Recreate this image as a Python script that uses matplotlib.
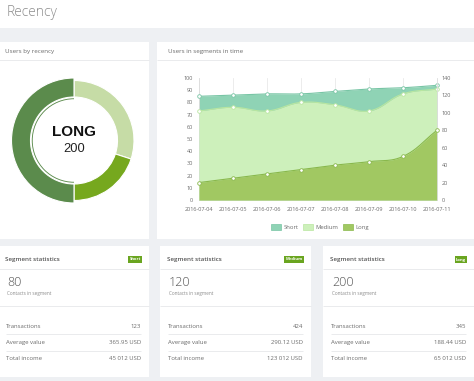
import matplotlib
matplotlib.use("Agg")
import matplotlib.pyplot as plt
import numpy as np
from matplotlib.patches import Rectangle, Patch, Wedge

W, H = 474, 381
plt.rcParams['font.family'] = ['Open Sans', 'DejaVu Sans']

# ---------------- data ----------------
dates = ["2016-07-04", "2016-07-05", "2016-07-06", "2016-07-07",
         "2016-07-08", "2016-07-09", "2016-07-10", "2016-07-11"]
short_series = [85, 86, 87, 87, 89, 91, 92, 94]      # left axis
medium_series = [73, 76, 73, 80, 78, 73, 87, 91]     # left axis
long_series = [20, 25, 30, 35, 40, 44, 50, 80]       # right axis
left_ticks = list(range(0, 101, 10))
right_ticks = list(range(0, 141, 20))

segments = ["Short", "Medium", "Long"]
segment_counts = [80, 120, 200]
donut_order = ["Medium", "Short", "Long"]
selected_segment = "Long"

transactions = [123, 424, 345]
average_values = [365.95, 290.12, 188.44]
total_incomes = [45012, 123012, 65012]

# ---------------- styles ----------------
fill_colors = {"Short": "#8fd3b5", "Medium": "#cdf0bb", "Long": "#a1c862"}
line_colors = {"Short": "#78c5a5", "Medium": "#b9e6a0", "Long": "#89b84c"}
donut_colors = {"Short": "#76a81e", "Medium": "#c6dca6", "Long": "#5b8b4c"}
badge_color = "#6aa520"
txt = "#6b6b6b"
sep = "#e7e8ea"

fig = plt.figure(figsize=(W / 100, H / 100), dpi=100, facecolor="#eef0f3")
bg = fig.add_axes([0, 0, 1, 1])
bg.set_xlim(0, W)
bg.set_ylim(H, 0)
bg.axis("off")


def rect(x0, y0, x1, y1, color, z=0):
    bg.add_patch(Rectangle((x0, y0), x1 - x0, y1 - y0, facecolor=color,
                           edgecolor="none", zorder=z))


def hline(x0, x1, y, color=sep, lw=0.6):
    bg.plot([x0, x1], [y, y], color=color, lw=lw, zorder=1,
            solid_capstyle="butt")


# title strip
rect(0, 0, W, 28, "white")
bg.text(7, 13, "Recency", fontsize=10, color="#8c8c8c", va="center",
        ha="left", fontweight="light")

# top panels
rect(-2, 42, 149, 239, "white")
bg.text(5, 52, "Users by recency", fontsize=4.5, color=txt, va="center")
hline(-2, 149, 60)
rect(157, 42, W + 2, 239, "white")
bg.text(168, 52, "Users in segments in time", fontsize=4.5, color=txt,
        va="center")
hline(157, W, 60)

# ---------------- donut ----------------
cx, cy, half = 74, 140.5, 70
dax = fig.add_axes([(cx - half) / W, 1 - (cy + half) / H,
                    2 * half / W, 2 * half / H])
vals = [segment_counts[segments.index(s)] for s in donut_order]
cols = [donut_colors[s] for s in donut_order]
wedges, _ = dax.pie(vals, colors=cols, startangle=90, counterclock=False,
                    radius=60, wedgeprops=dict(width=16.5, edgecolor="white",
                                               linewidth=0.8))
dax.set_xlim(-half, half)
dax.set_ylim(-half, half)
sel = wedges[donut_order.index(selected_segment)]
sel.set_radius(62.5)
sel.set_width(19)
dax.add_patch(Wedge((0, 0), 42.2, sel.theta1, sel.theta2, width=0.9,
                    facecolor=donut_colors[selected_segment], edgecolor="none"))
sel_count = segment_counts[segments.index(selected_segment)]
dax.text(0, 8.5, selected_segment.upper(), ha="center", va="center",
         fontsize=11, fontweight="bold", family="Liberation Sans", color="#111")
dax.text(0, -8, str(sel_count), ha="center", va="center", fontsize=9.3,
         family="Liberation Sans", color="#222")


# ---------------- line / area chart ----------------
def spline(xv, yv, sx, sy, t=0.4, n=24):
    P = np.column_stack([np.asarray(xv, float) * sx, np.asarray(yv, float) * sy])
    m = len(P)
    cprev = P.copy()
    cnext = P.copy()
    for i in range(m):
        pp = P[i - 1] if i > 0 else P[i]
        nn = P[i + 1] if i < m - 1 else P[i]
        d01 = np.hypot(*(P[i] - pp))
        d12 = np.hypot(*(nn - P[i]))
        s = d01 + d12
        if s == 0:
            continue
        fa = t * d01 / s
        fb = t * d12 / s
        cprev[i] = P[i] - fa * (nn - pp)
        cnext[i] = P[i] + fb * (nn - pp)
    ts = np.linspace(0, 1, n)[:, None]
    out = []
    for i in range(m - 1):
        B = ((1 - ts) ** 3) * P[i] + 3 * ((1 - ts) ** 2) * ts * cnext[i] + \
            3 * (1 - ts) * ts ** 2 * cprev[i + 1] + ts ** 3 * P[i + 1]
        out.append(B if i == 0 else B[1:])
    out = np.vstack(out)
    return out[:, 0] / sx, out[:, 1] / sy


x0p, x1p, ytop, ybot = 199, 437, 78, 200
ax = fig.add_axes([x0p / W, 1 - ybot / H, (x1p - x0p) / W, (ybot - ytop) / H])
ax.set_facecolor("none")
ax2 = ax.twinx()
xs = np.arange(len(dates))
ax.set_xlim(0, len(dates) - 1)
ax.set_ylim(0, left_ticks[-1])
ax2.set_ylim(0, right_ticks[-1])
sx = (x1p - x0p) / (len(dates) - 1)
syl = (ybot - ytop) / left_ticks[-1]
syr = (ybot - ytop) / right_ticks[-1]

for xi in xs:
    ax.axvline(xi, color="#e9e9e9", lw=0.6, zorder=0)

for name, data, a, sy, z in [("Short", short_series, ax, syl, 1),
                             ("Medium", medium_series, ax, syl, 4),
                             ("Long", long_series, ax2, syr, 1)]:
    cx_, cy_ = spline(xs, data, sx, sy)
    a.fill_between(cx_, cy_, 0, color=fill_colors[name], lw=0, zorder=z)
    a.plot(cx_, cy_, color=line_colors[name], lw=0.8, zorder=z + 1)
    a.plot(xs, data, "o", ms=2.6, mfc="white", mec=line_colors[name],
           mew=0.6, zorder=z + 2, clip_on=False)

for s in ["top", "right"]:
    ax.spines[s].set_visible(False)
ax.spines["left"].set_color("#dcdcdc")
ax.spines["bottom"].set_color("#d0d0d0")
ax.spines["left"].set_linewidth(0.6)
ax.spines["bottom"].set_linewidth(0.6)
for s in ["top", "left", "bottom"]:
    ax2.spines[s].set_visible(False)
ax2.spines["right"].set_color("#dcdcdc")
ax2.spines["right"].set_linewidth(0.6)

ax.set_yticks(left_ticks)
ax.set_yticklabels([str(v) for v in left_ticks])
ax.set_xticks(xs)
ax.set_xticklabels(dates)
ax2.set_yticks(right_ticks)
ax2.set_yticklabels([str(v) for v in right_ticks])
ax.tick_params(axis="y", length=0, pad=4.3, labelsize=4, labelcolor=txt)
ax.tick_params(axis="x", length=0, pad=4.8, labelsize=4, labelcolor=txt)
ax2.tick_params(axis="y", length=0, pad=3.4, labelsize=4, labelcolor=txt)

handles = [Patch(facecolor=fill_colors[s], edgecolor=line_colors[s], lw=0.5,
                 label=s) for s in segments]
ax.legend(handles=handles, loc="center", bbox_to_anchor=(320 / W, 1 - 227 / H),
          bbox_transform=fig.transFigure, ncol=3, frameon=False, fontsize=4.2,
          handlelength=1.7, handleheight=1.2, handletextpad=0.4,
          columnspacing=0.8, labelcolor=txt)

# ---------------- segment cards ----------------
def money(v, dec=False):
    if dec:
        return f"{v:.2f} USD"
    return f"{v:,}".replace(",", " ") + " USD"


card_lefts = [-2, 160, 323]
card_w = 151
for i, seg in enumerate(segments):
    L = card_lefts[i]
    R = L + card_w
    cl, cr = L + 8, R - 8
    rect(L, 246, R, 377, "white")
    bg.text(cl - 1, 259, "Segment statistics", fontsize=4.5, color="#555",
            va="center", fontweight="semibold")
    bg.text(cr, 259.5, seg, fontsize=3, color="white", va="center", ha="right",
            fontweight="bold",
            bbox=dict(boxstyle="square,pad=0.35", fc=badge_color, ec="none"))
    hline(L, R, 269)
    bg.text(cl + 1, 283, str(segment_counts[i]), fontsize=9, color="#555",
            va="center", fontweight="light")
    bg.text(cl + 1, 293, "Contacts in segment", fontsize=3.3, color="#8a8a8a",
            va="center")
    hline(L, R, 306)
    rows = [("Transactions", str(transactions[i])),
            ("Average value", money(average_values[i], True)),
            ("Total income", money(total_incomes[i]))]
    for j, (lab, val) in enumerate(rows):
        y = 326 + j * 16.5
        bg.text(cl, y, lab, fontsize=4.3, color=txt, va="center")
        bg.text(cr, y, val, fontsize=4.3, color=txt, va="center", ha="right")
        if j < 2:
            hline(cl, cr, y + 8.2)

fig.savefig("out.png", dpi=100, facecolor=fig.get_facecolor())
